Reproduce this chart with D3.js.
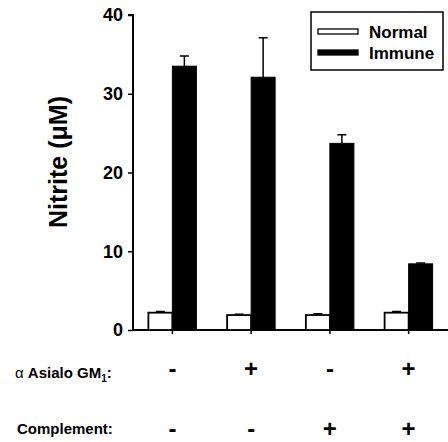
<!DOCTYPE html>
<html>
<head>
<meta charset="utf-8">
<script src="https://cdn.jsdelivr.net/npm/d3@7"></script>
<style>
  body { margin: 0; background: #fff; }
  svg { font-family: "Liberation Sans", Arial, sans-serif; font-weight: bold; }
</style>
</head>
<body>
<div class="chart"></div>
<script>
var groups = ["g1", "g2", "g3", "g4"]
var series = ["Normal", "Immune"]
var normal = [2.2, 1.9, 1.9, 2.2]
var normalErr = [0.15, 0.1, 0.15, 0.15]
var immune = [33.5, 32.1, 23.7, 8.4]
var immuneErr = [1.3, 5.0, 1.1, 0.1]
var asialo = ["-", "+", "-", "+"]
var complement = ["-", "-", "+", "+"]
var yTicks = [0, 10, 20, 30, 40]

var width = 448, height = 442

var svg = d3.select(".chart")
    .append("svg")
    .attr("width", width)
    .attr("height", height)

var x = d3.scaleBand().domain(groups).range([133, 448]).padding(0)
var bw = x.bandwidth()
var xi = d3.scaleBand().domain(series).range([bw/2 - 24, bw/2 + 24])
var y = d3.scaleLinear().domain([0, 40]).range([330, 15])

// y axis
var yAxis = svg.append("g")
    .attr("transform", "translate(133,0)")
    .call(d3.axisLeft(y).tickValues(yTicks).tickSize(5).tickPadding(5))
yAxis.select(".domain").attr("stroke-width", 2).attr("d", "M-5,15H0V331")
yAxis.selectAll(".tick line").attr("stroke-width", 1.5)
yAxis.selectAll(".tick text").style("font-size", "18px").style("font-weight", "bold").attr("fill", "#000")

// x axis
var xAxis = svg.append("g")
    .attr("transform", "translate(0,330)")
    .call(d3.axisBottom(x).tickSize(4).tickFormat(""))
xAxis.select(".domain").attr("stroke-width", 2).attr("d", "M133,0H448")
xAxis.selectAll(".tick line").attr("stroke-width", 1.5)

// bars
var rows = groups.map((g, i) => ({g: g, vals: [
    {s: "Normal", v: normal[i], e: normalErr[i]},
    {s: "Immune", v: immune[i], e: immuneErr[i]}
]}))

var gg = svg.selectAll(".grp")
    .data(rows)
    .enter()
    .append("g")
    .attr("transform", d => "translate(" + x(d.g) + ",0)")

// error bars (drawn first so the bar covers the stem)
gg.selectAll(".err")
    .data(d => d.vals)
    .enter()
    .append("path")
    .attr("fill", "none")
    .attr("stroke", "#000")
    .attr("stroke-width", 1.5)
    .attr("d", d => {
        var cx = xi(d.s) + xi.bandwidth()/2
        return "M" + cx + "," + y(d.v) + "V" + y(d.v + d.e) +
            "M" + (cx - 4.5) + "," + y(d.v + d.e) + "H" + (cx + 4.5)
    })

gg.selectAll(".bar")
    .data(d => d.vals)
    .enter()
    .append("rect")
    .attr("x", d => xi(d.s))
    .attr("width", xi.bandwidth())
    .attr("y", d => y(d.v))
    .attr("height", d => y(0) - y(d.v))
    .attr("fill", d => d.s == "Normal" ? "#fff" : "#000")
    .attr("stroke", "#000")
    .attr("stroke-width", d => d.s == "Normal" ? 1.8 : 1)

// y label
svg.append("text")
    .attr("transform", "translate(67,162) rotate(-90)")
    .attr("text-anchor", "middle")
    .style("font-size", "25px")
    .text("Nitrite (\u03bcM)")

// treatment rows
var lab1 = svg.append("text")
    .attr("x", 15)
    .attr("y", 378)
    .style("font-size", "15px")
lab1.append("tspan").style("font-weight", "normal").text("\u03b1 ")
lab1.append("tspan").text("Asialo GM")
lab1.append("tspan").attr("dy", 4).style("font-size", "10px").text("1")
lab1.append("tspan").attr("dy", -4).text(":")

svg.append("text")
    .attr("x", 17)
    .attr("y", 434)
    .style("font-size", "15px")
    .text("Complement:")

svg.selectAll(".sign1")
    .data(asialo)
    .enter()
    .append("text")
    .attr("x", (d, i) => x(groups[i]) + bw/2)
    .attr("y", 377)
    .attr("text-anchor", "middle")
    .style("font-size", "24px")
    .text(d => d)

svg.selectAll(".sign2")
    .data(complement)
    .enter()
    .append("text")
    .attr("x", (d, i) => x(groups[i]) + bw/2)
    .attr("y", 437)
    .attr("text-anchor", "middle")
    .style("font-size", "24px")
    .text(d => d)

// legend
var leg = svg.append("g")
leg.append("rect")
    .attr("x", 311).attr("y", 12)
    .attr("width", 132).attr("height", 58)
    .attr("fill", "#fff").attr("stroke", "#000").attr("stroke-width", 1.5)

series.forEach(function(s, i) {
    leg.append("rect")
        .attr("x", 318).attr("y", 29 + i*21)
        .attr("width", 40).attr("height", 5)
        .attr("fill", s == "Normal" ? "#fff" : "#000")
        .attr("stroke", "#000").attr("stroke-width", 1.3)
    leg.append("text")
        .attr("x", 369).attr("y", 38 + i*21)
        .style("font-size", "17px")
        .text(s)
})
</script>
</body>
</html>
